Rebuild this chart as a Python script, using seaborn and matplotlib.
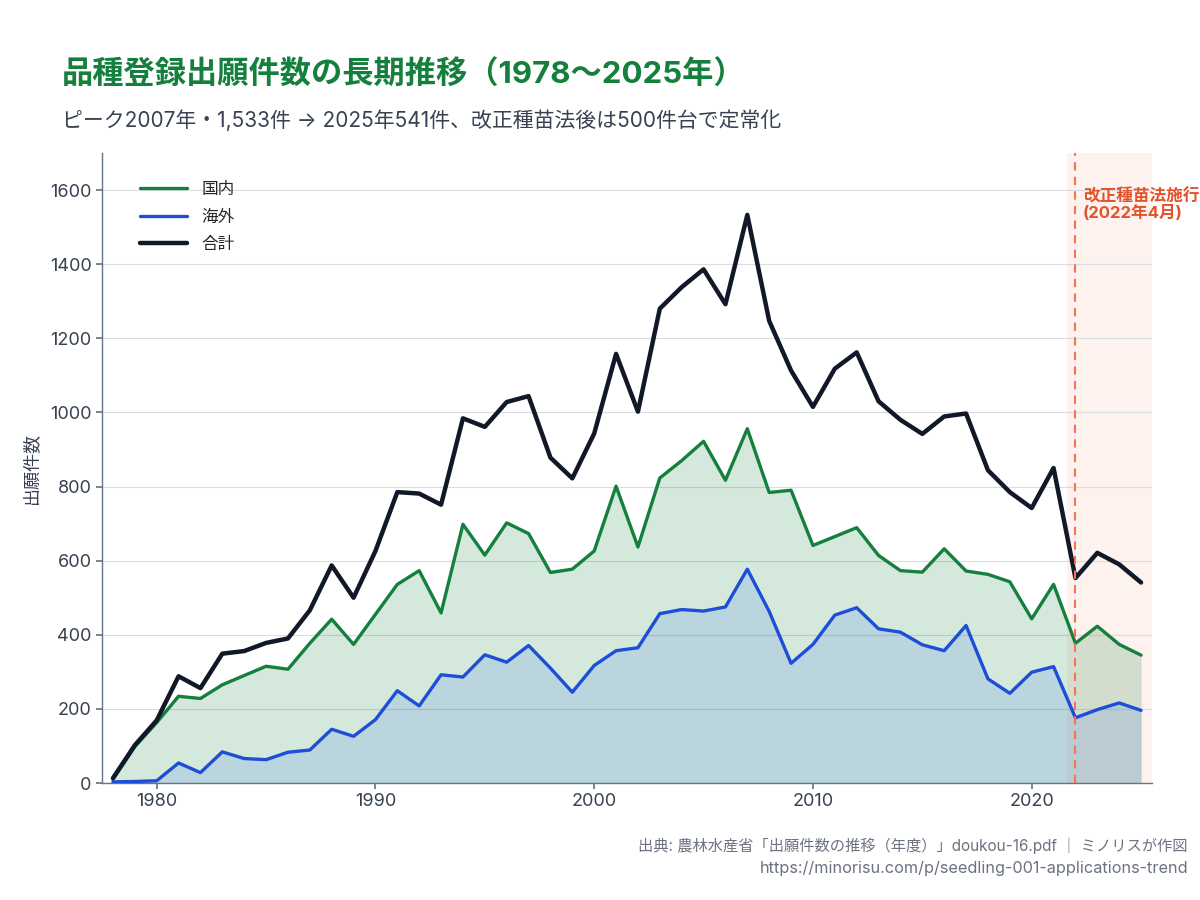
import matplotlib
matplotlib.use("Agg")
import matplotlib.pyplot as plt
import seaborn as sns
import pandas as pd

years = list(range(1978, 2026))
domestic = [10, 98, 163, 234, 228, 265, 290, 315, 307, 377, 442, 374, 455, 536, 573, 459,
            698, 615, 702, 673, 568, 577, 626, 801, 637, 823, 870, 922, 817, 956, 784, 790,
            641, 665, 689, 614, 573, 569, 632, 572, 563, 543, 443, 536, 377, 423, 374, 345]
foreign = [3, 4, 6, 54, 28, 84, 66, 63, 83, 89, 145, 126, 171, 249, 208, 292,
           286, 346, 326, 371, 310, 245, 317, 357, 365, 457, 468, 464, 475, 577, 463, 323,
           374, 453, 473, 416, 407, 373, 357, 425, 281, 242, 299, 314, 176, 198, 216, 196]
total = [13, 102, 169, 288, 256, 349, 356, 378, 390, 466, 587, 500, 626, 785, 781, 751,
         984, 961, 1028, 1044, 878, 822, 943, 1158, 1002, 1280, 1338, 1386, 1292, 1533, 1247, 1113,
         1015, 1118, 1162, 1030, 980, 942, 989, 997, 844, 785, 742, 850, 553, 621, 590, 541]
series_names = ["国内", "海外", "合計"]
yticks = [0, 200, 400, 600, 800, 1000, 1200, 1400, 1600]
xticks = [1980, 1990, 2000, 2010, 2020]

title = "品種登録出願件数の長期推移（1978〜2025年）"
subtitle = "ピーク2007年・1,533件 → 2025年541件、改正種苗法後は500件台で定常化"
ylabel = "出願件数"
law_label = "改正種苗法施行\n(2022年4月)"
source1 = "出典: 農林水産省「出願件数の推移（年度）」doukou-16.pdf ｜ ミノリスが作図"
source2 = "https://minorisu.com/p/seedling-001-applications-trend"

sns.set_theme(style="white")
plt.rcParams['font.family'] = ['Inter', 'Noto Sans CJK JP', 'DejaVu Sans']

GREEN = "#15803d"
BLUE = "#1d4ed8"
BLACK = "#111827"
ORANGE = "#f97352"

df = pd.DataFrame({"year": years * 3,
                   "value": domestic + foreign + total,
                   "series": [series_names[0]] * len(years) + [series_names[1]] * len(years) + [series_names[2]] * len(years)})

fig = plt.figure(figsize=(12, 9), dpi=100)
ax = fig.add_axes([0.085, 0.13, 0.875, 0.70])

ax.axvspan(2021.6, 2025.5, color="#fde8e1", alpha=0.55, lw=0, zorder=0)
ax.fill_between(years, 0, domestic, color=GREEN, alpha=0.18, lw=0, zorder=1)
ax.fill_between(years, 0, foreign, color="#2563eb", alpha=0.14, lw=0, zorder=1)

palette = {series_names[0]: GREEN, series_names[1]: BLUE, series_names[2]: BLACK}
sns.lineplot(data=df, x="year", y="value", hue="series", palette=palette, ax=ax,
             linewidth=2.4, zorder=3)
for line, lw in zip(ax.get_lines()[:3], [2.4, 2.4, 3.2]):
    line.set_linewidth(lw)

ax.axvline(2022, color=ORANGE, ls=(0, (4, 3)), lw=1.5, zorder=4)
ax.text(2022.35, 1605, law_label, color="#e4522b", fontsize=12, fontweight="bold",
        va="top", ha="left", linespacing=1.05)

ax.set_xlim(1977.5, 2025.5)
ax.set_ylim(0, 1700)
ax.set_yticks(yticks)
ax.set_xticks(xticks)
ax.grid(axis="y", color="#d9dce1", lw=0.8)
ax.grid(axis="x", visible=False)
ax.set_axisbelow(True)
for s in ["top", "right"]:
    ax.spines[s].set_visible(False)
for s in ["left", "bottom"]:
    ax.spines[s].set_color("#64748b")
    ax.spines[s].set_linewidth(1.0)
ax.tick_params(axis="both", colors="#374151", labelsize=13, length=4, color="#64748b", left=True, bottom=True)
ax.set_xlabel("")
ax.set_ylabel(ylabel, fontsize=13, color="#374151", labelpad=6)

leg = ax.legend(loc="upper left", frameon=False, fontsize=12, bbox_to_anchor=(0.022, 0.978),
                handlelength=2.8, handletextpad=0.9, labelspacing=0.75)
for h, lw in zip(leg.get_lines(), [2.4, 2.4, 3.2]):
    h.set_linewidth(lw)

fig.text(62 / 1200, 1 - 75 / 900, title, fontsize=22.5, fontweight="bold", color=GREEN, va="center", ha="left")
fig.text(62 / 1200, 1 - 120 / 900, subtitle, fontsize=15, color="#374151", va="center", ha="left")
fig.text(1188 / 1200, 1 - 846 / 900, source1, fontsize=11, color="#6b7280", va="center", ha="right")
fig.text(1188 / 1200, 1 - 869 / 900, source2, fontsize=11.7, color="#6b7280", va="center", ha="right")

fig.savefig("out.png", dpi=100)
